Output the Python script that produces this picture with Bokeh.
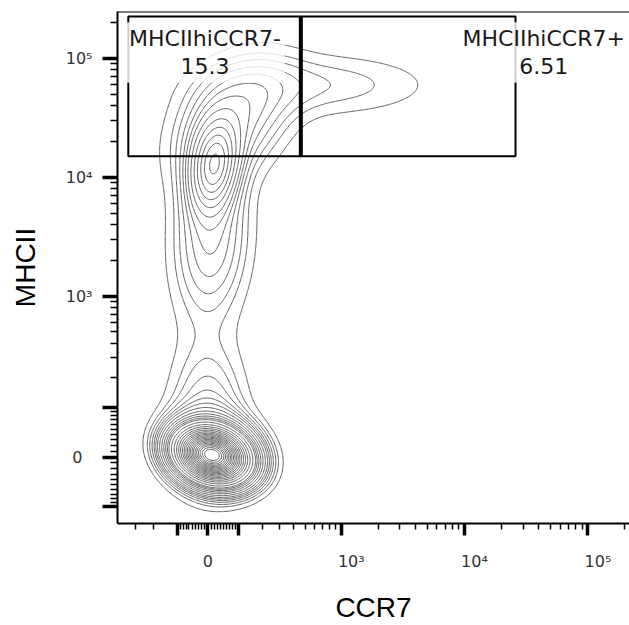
import numpy as np
from bokeh.plotting import figure
from bokeh.models import Range1d, FixedTicker, Span, Label, ColumnDataSource
from bokeh.embed import file_html
from bokeh.resources import INLINE

# ---------------- data ----------------
x_title = "CCR7"
y_title = "MHCII"

gate_names = ["MHCIIhiCCR7-", "MHCIIhiCCR7+"]
gate_percents = ["15.3", "6.51"]
gate_ccr7_bounds = [-350, 460, 26000]      # left gate: [0]..[1], right gate: [1]..[2]
gate_mhcii_bounds = [15000, 224000]

# cell populations (centres in fluorescence units, spreads in display decades)
#            low core  low halo  low apex  up core  up broad  up stalk  CCR7+ tail
pop_ccr7 = [12, 22, 0, 20, 80, 10, 680]
pop_mhcii = [3, 8, 80, 12500, 30000, 3000, 59600]
pop_sd_ccr7 = [0.160, 0.200, 0.200, 0.115, 0.300, 0.200, 0.600]
pop_sd_mhcii = [0.125, 0.170, 0.380, 0.230, 0.320, 0.450, 0.177]
pop_corr = [-0.20, -0.15, 0.0, 0.20, 0.35, 0.10, 0.0]
pop_weight = [0.45, 0.17, 0.05, 0.07, 0.08, 0.07, 0.036]
contour_step = 0.03   # equal-probability contour step

x_labeled_ticks = [0, 1e3, 1e4, 1e5]
x_other_major = [-100, 100]
x_minor = ([-300, -200] + [-v for v in range(10, 100, 10)] + list(range(10, 100, 10))
           + list(range(200, 1000, 100)) + list(range(2000, 10000, 1000))
           + list(range(20000, 100000, 10000)) + [200000])
y_labeled_ticks = [0, 1e3, 1e4, 1e5]
y_other_major = [-100, 100]
y_minor = ([-v for v in range(10, 100, 10)] + list(range(10, 100, 10))
           + list(range(200, 1000, 100)) + list(range(2000, 10000, 1000))
           + list(range(20000, 100000, 10000)) + [200000])

SUP = {"3": "\u00b3", "4": "\u2074", "5": "\u2075"}

# ---------------- biexponential-like display transform ----------------
LN10 = np.log(10.0)
X_W = 83.8
Y_W = 44.7


def tx(v):
    return np.log10(X_W) + np.arcsinh(np.asarray(v, dtype=float) / (2 * X_W)) / LN10


def ty(v):
    return np.log10(Y_W) + np.arcsinh(np.asarray(v, dtype=float) / (2 * Y_W)) / LN10


def tick_text(v, pad=""):
    if v == 0:
        return "0"
    return pad + "10" + SUP[str(int(round(np.log10(v))))]


X0, X1 = 1.192, 5.338
Y0, Y1 = 1.092, 5.392

p = figure(width=629, height=625, x_range=Range1d(X0, X1), y_range=Range1d(Y0, Y1),
           output_backend="svg", toolbar_location=None,
           min_border_left=117, min_border_right=0, min_border_top=11, min_border_bottom=98)
p.grid.visible = False
p.outline_line_color = None
p.background_fill_color = "white"
p.border_fill_color = "white"

# ---------------- density contours ----------------
gx = np.linspace(X0, X1, 440)
gy = np.linspace(Y0, Y1, 440)
GX, GY = np.meshgrid(gx, gy)
Z = np.zeros_like(GX)
for cx, cy, sx, sy, r, w in zip(pop_ccr7, pop_mhcii, pop_sd_ccr7, pop_sd_mhcii, pop_corr, pop_weight):
    mx, my = float(tx(cx)), float(ty(cy))
    dx = (GX - mx) / sx
    dy = (GY - my) / sy
    q = (dx * dx - 2 * r * dx * dy + dy * dy) / (1 - r * r)
    Z += w / (2 * np.pi * sx * sy * np.sqrt(1 - r * r)) * np.exp(-0.5 * q)

zs = np.sort(Z.ravel())
cum = np.cumsum(zs)
cum /= cum[-1]
fracs = np.arange(contour_step, 0.985, contour_step)
levels = np.interp(fracs, cum, zs)
p.contour(gx, gy, Z, list(levels), line_color="#606060", line_width=1)

# ---------------- gates ----------------
gsrc = ColumnDataSource(dict(
    left=[float(tx(gate_ccr7_bounds[0])), float(tx(gate_ccr7_bounds[1]))],
    right=[float(tx(gate_ccr7_bounds[1])), float(tx(gate_ccr7_bounds[2]))],
    bottom=[float(ty(gate_mhcii_bounds[0]))] * 2,
    top=[float(ty(gate_mhcii_bounds[1]))] * 2,
))
p.quad(left="left", right="right", bottom="bottom", top="top", source=gsrc,
       fill_color=None, line_color="black", line_width=2)
p.segment(x0=[float(tx(gate_ccr7_bounds[1]))], y0=[float(ty(gate_mhcii_bounds[0]))],
          x1=[float(tx(gate_ccr7_bounds[1]))], y1=[float(ty(gate_mhcii_bounds[1]))],
          line_color="black", line_width=4)

# ---------------- axes ----------------
TICK_FONT = "DejaVu Sans"
TICK_COLOR = "#333333"
xax, yax = p.xaxis[0], p.yaxis[0]
for ax, f, labeled, other, minor, tout, mout, pad in (
        (xax, tx, x_labeled_ticks, x_other_major, x_minor, 12, 6, "\u2007\u2007"),
        (yax, ty, y_labeled_ticks, y_other_major, y_minor, 15, 7, "")):
    ticks = [float(f(v)) for v in labeled + other]
    ax.ticker = FixedTicker(ticks=ticks, minor_ticks=[float(f(v)) for v in minor])
    overrides = {float(f(v)): tick_text(v, pad) for v in labeled}
    overrides.update({float(f(v)): "" for v in other})
    ax.major_label_overrides = overrides
    ax.axis_line_width = 2
    ax.axis_line_color = "black"
    ax.major_tick_in = 0
    ax.major_tick_out = tout
    ax.major_tick_line_width = 3.5
    ax.minor_tick_in = 0
    ax.minor_tick_out = mout
    ax.minor_tick_line_width = 1.5
    ax.major_label_text_font = TICK_FONT
    ax.major_label_text_font_size = "16px"
    ax.major_label_text_color = TICK_COLOR
    ax.axis_label_text_font = "Liberation Sans"
    ax.axis_label_text_font_size = "28px"
    ax.axis_label_text_font_style = "normal"
    ax.axis_label_text_color = "black"

yax.major_label_overrides = {**yax.major_label_overrides, float(ty(0)): "0\u2007"}
xax.major_label_standoff = 16
xax.axis_label = x_title
xax.axis_label_standoff = 18
yax.major_label_standoff = 10
yax.axis_label = y_title
yax.axis_label_standoff = 22

p.add_layout(Span(location=Y1, dimension="width", line_color="black", line_width=2))

# gate labels
label_anchor_ccr7 = [-9, 44000]
label_anchor_mhcii = 200000
for name, pct, ax_ in zip(gate_names, gate_percents, label_anchor_ccr7):
    p.add_layout(Label(x=float(tx(ax_)), y=float(ty(label_anchor_mhcii)), text=name + "\n" + pct,
                       text_align="center", text_baseline="top", text_font="DejaVu Sans",
                       text_font_size="22px", text_color="#1a1a1a", text_line_height=1.1,
                       background_fill_color="white", background_fill_alpha=0.8, padding=4))

open("out.html", "w").write(file_html(p, INLINE))
